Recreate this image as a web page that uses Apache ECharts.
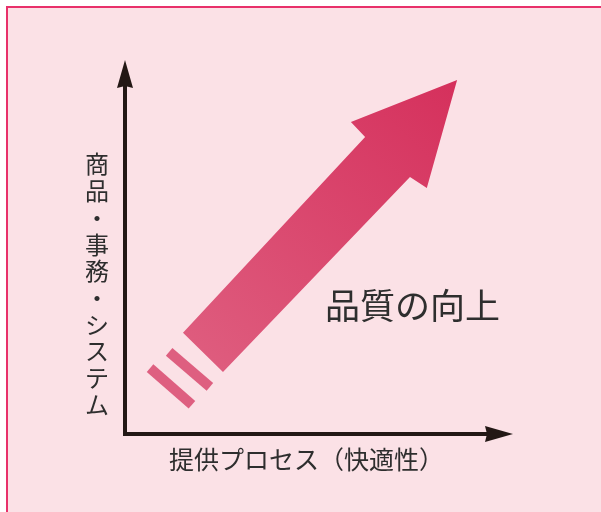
<!DOCTYPE html>
<html>
<head>
<meta charset="utf-8">
<script src="https://cdn.jsdelivr.net/npm/echarts@6/dist/echarts.min.js"></script>
<style>
html,body{margin:0;padding:0;background:#ffffff;}
#chart{width:601px;height:512px;}
</style>
</head>
<body>
<div id="chart"></div>
<script>
// Axis titles and annotation
var xAxisTitle = '提供プロセス（快適性）';
var yAxisTitle = '商品・事務・システム';
var arrowLabel = '品質の向上';

// Big arrow outline (data units, x 0-100, y 0-100), from shaft base round to tip
var arrowX = [15.5, 64.2, 60.4, 88.8, 80.7, 76.2, 26.2];
var arrowY = [28.1, 82.5, 86.7, 98.3, 68.3, 71.4, 17.2];

// Two tail stripes (start / end points)
var stripe1X = [11.8, 22.7];
var stripe1Y = [22.8, 13.1];
var stripe2X = [6.7, 17.9];
var stripe2Y = [18.3, 8.1];

function pairs(xs, ys) { return xs.map(function (x, i) { return [x, ys[i]]; }); }

var chart = echarts.init(document.getElementById('chart'), null, {renderer: 'canvas'});
var fontFam = '"Noto Sans CJK JP", "Noto Sans", sans-serif';
var axisColor = '#231815';
var textColor = '#2e2e2e';
var headPath = 'path://M8,0L16,28L8,26L0,28Z';

var option = {
  backgroundColor: '#ffffff',
  animation: false,
  graphic: [{
    type: 'rect', z: -10, silent: true,
    shape: {x: 7, y: 7, width: 620, height: 530},
    style: {fill: '#fbe1e6', stroke: '#e8306a', lineWidth: 2}
  }],
  title: [
    {
      text: arrowLabel, left: 320, top: 283,
      textStyle: {fontFamily: fontFam, fontSize: 35, fontWeight: 'normal', color: textColor}
    },
    {
      text: xAxisTitle, left: 164, top: 439,
      textStyle: {fontFamily: fontFam, fontSize: 25, fontWeight: 'normal', color: textColor, lineHeight: 30}
    },
    {
      text: yAxisTitle.split('').join('\n'), left: 80, top: 146,
      textStyle: {fontFamily: fontFam, fontSize: 24, fontWeight: 'normal', color: textColor, lineHeight: 26.7}
    }
  ],
  grid: {left: 125, right: 102, top: 74, bottom: 78},
  xAxis: {
    type: 'value', min: 0, max: 100,
    axisLine: {show: true, symbol: ['none', headPath], symbolSize: [16, 28],
      lineStyle: {color: axisColor, width: 4, cap: 'square'}},
    axisTick: {show: false}, axisLabel: {show: false}, splitLine: {show: false}
  },
  yAxis: {
    type: 'value', min: 0, max: 100,
    axisLine: {show: true, symbol: ['none', headPath], symbolSize: [16, 28],
      lineStyle: {color: axisColor, width: 4, cap: 'square'}},
    axisTick: {show: false}, axisLabel: {show: false}, splitLine: {show: false}
  },
  series: [
    {
      type: 'custom',
      data: pairs(arrowX, arrowY),
      renderItem: function (params, api) {
        if (params.dataIndex !== 0) return null;
        var pts = arrowX.map(function (x, i) { return api.coord([x, arrowY[i]]); });
        return {
          type: 'polygon',
          shape: {points: pts},
          style: {
            fill: new echarts.graphic.LinearGradient(0, 1, 1, 0, [
              {offset: 0, color: '#df5f80'},
              {offset: 1, color: '#d5305c'}
            ])
          }
        };
      },
      silent: true
    },
    {
      type: 'line', data: pairs(stripe1X, stripe1Y), symbol: 'none', silent: true,
      lineStyle: {color: '#de5f80', width: 10, cap: 'butt'}
    },
    {
      type: 'line', data: pairs(stripe2X, stripe2Y), symbol: 'none', silent: true,
      lineStyle: {color: '#de5f80', width: 10, cap: 'butt'}
    }
  ]
};
chart.setOption(option);
</script>
</body>
</html>
